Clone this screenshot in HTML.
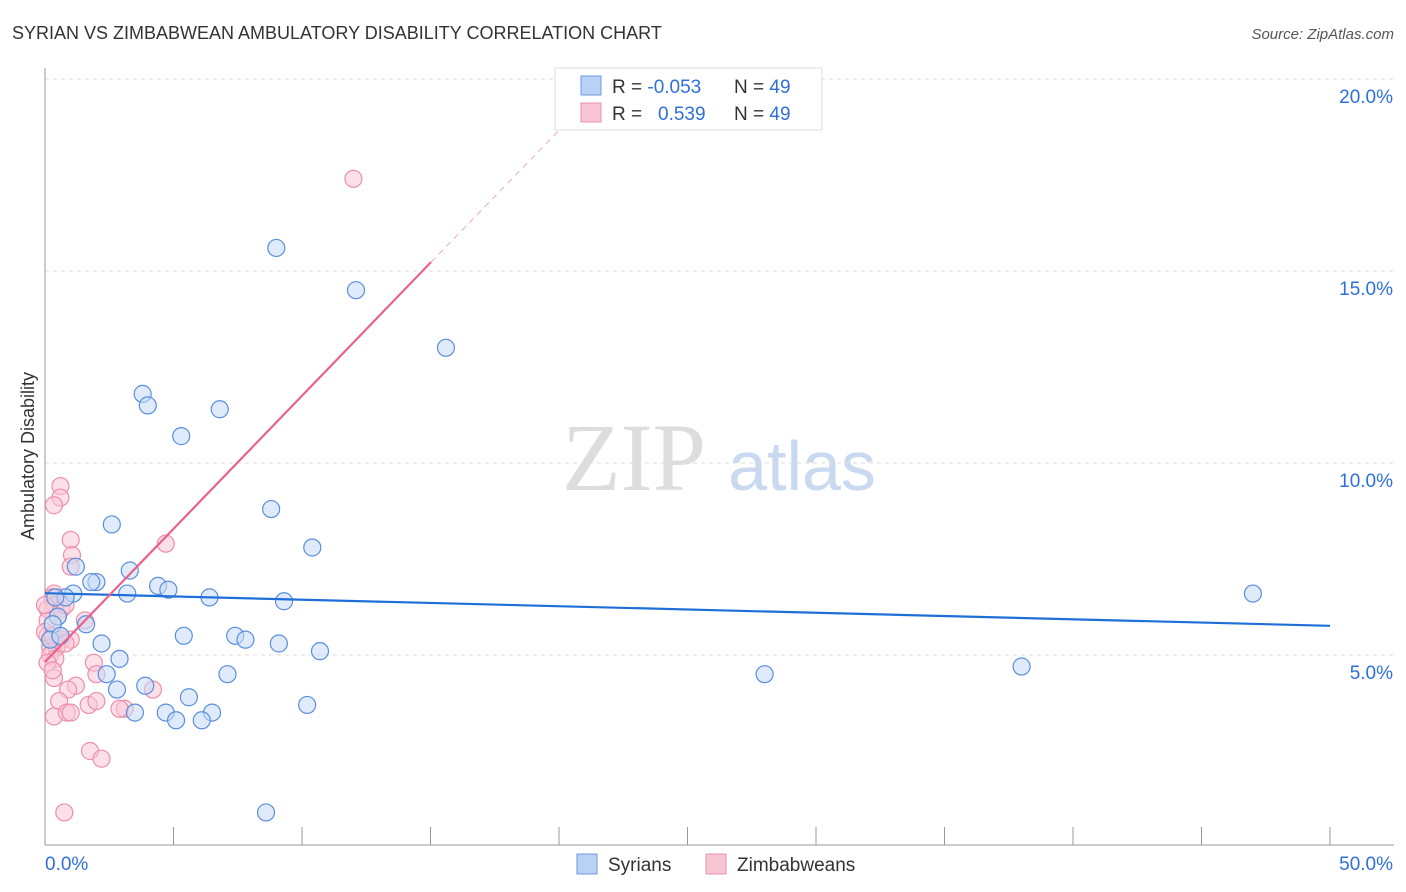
<!DOCTYPE html>
<html><head><meta charset="utf-8"><style>
body{margin:0;background:#fff;font-family:"Liberation Sans",sans-serif;}
svg{display:block}
</style></head><body>
<svg id="chart" width="1406" height="892" xmlns="http://www.w3.org/2000/svg">
<text x="12" y="39" font-size="18" fill="#333">SYRIAN VS ZIMBABWEAN AMBULATORY DISABILITY CORRELATION CHART</text>
<text x="1394" y="39" font-size="15" fill="#555" text-anchor="end" font-style="italic">Source: ZipAtlas.com</text>
<g><text x="634" y="490" font-size="96" fill="#ddd" font-family="Liberation Serif,serif" text-anchor="middle">ZIP</text><text x="802" y="490" font-size="70" fill="#c9d9f0" text-anchor="middle">atlas</text></g>
<g id="grid"></g><g id="axes"></g><g id="pts"></g><g id="lines"></g>
<text transform="translate(34,456) rotate(-90)" font-size="18" fill="#333" text-anchor="middle">Ambulatory Disability</text>
<g>
<rect x="555" y="68" width="267" height="62" fill="#fff" stroke="#ddd"/>
<rect x="581" y="76" width="20" height="19" fill="#b8d2f5" stroke="#6a9be0"/>
<rect x="581" y="103" width="20" height="19" fill="#f9c6d5" stroke="#ec8fab"/>
<text x="612" y="93" font-size="19" fill="#333">R = <tspan fill="#2f6fd8">-0.053</tspan><tspan x="734">N = </tspan><tspan fill="#2f6fd8">49</tspan></text>
<text x="612" y="120" font-size="19" fill="#333">R = <tspan x="658" fill="#2f6fd8">0.539</tspan><tspan x="734">N = </tspan><tspan fill="#2f6fd8">49</tspan></text>
</g>
<g>
<rect x="577" y="854" width="20" height="20" fill="#b8d2f5" stroke="#6a9be0"/>
<text x="608" y="871" font-size="19" fill="#333">Syrians</text>
<rect x="706" y="854" width="20" height="20" fill="#f9c6d5" stroke="#ec8fab"/>
<text x="737" y="871" font-size="19" fill="#333">Zimbabweans</text>
</g>
</svg>
<script>
const yTicks=[5,10,15,20];
const yTickLabels=["5.0%","10.0%","15.0%","20.0%"];
const syrX=[9.0,12.1,15.6,3.8,4.0,6.8,5.3,8.8,2.6,10.4,3.3,1.2,2.0,1.8,4.4,4.8,3.2,6.4,9.3,1.1,0.8,0.4,0.5,1.6,0.3,5.4,7.4,7.8,9.1,2.2,10.7,2.9,2.4,7.1,2.8,3.9,5.6,10.2,3.5,4.7,6.5,5.1,6.1,8.6,28.0,38.0,47.0,0.2,0.6];
const syrY=[15.6,14.5,13.0,11.8,11.5,11.4,10.7,8.8,8.4,7.8,7.2,7.3,6.9,6.9,6.8,6.7,6.6,6.5,6.4,6.6,6.5,6.5,6.0,5.8,5.8,5.5,5.5,5.4,5.3,5.3,5.1,4.9,4.5,4.5,4.1,4.2,3.9,3.7,3.5,3.5,3.5,3.3,3.3,0.9,4.5,4.7,6.6,5.4,5.5];
const zimX=[12.0,0.6,0.6,0.35,1.0,1.05,1.0,4.7,0.35,0.3,0.4,0.1,0.65,1.55,0.1,0.4,0.65,1.0,0.2,0.45,0.2,0.4,0.1,1.9,2.0,0.35,1.2,0.9,0.55,1.7,2.0,3.1,4.2,0.35,0.85,1.0,1.75,2.2,0.75,0.1,0.0,0.3,0.5,0.8,0.6,0.3,0.0,2.9,0.8];
const zimY=[17.4,9.4,9.1,8.9,8.0,7.6,7.3,7.9,6.6,6.5,6.3,6.2,6.2,5.9,5.5,5.4,5.4,5.4,5.2,5.2,5.0,4.9,4.8,4.8,4.5,4.4,4.2,4.1,3.8,3.7,3.8,3.6,4.1,3.4,3.5,3.5,2.5,2.3,0.9,5.9,5.6,5.5,6.0,6.3,5.5,4.6,6.3,3.6,5.3];
const blueLine=[[0,6.61],[50,5.76]];
const pinkLine=[[0,4.82],[15.02,15.23]];
const pinkDash=[[15.02,15.23],[20.2,18.8]];
const X0=45,X1=1330,YB=847,PY=38.4;
const sx=v=>X0+(X1-X0)*v/50, sy=v=>YB-v*PY;
const NS="http://www.w3.org/2000/svg";
function mk(p,t,a){const e=document.createElementNS(NS,t);for(const k in a)e.setAttribute(k,a[k]);p.appendChild(e);return e;}
const grid=document.getElementById('grid'),axes=document.getElementById('axes'),pts=document.getElementById('pts'),lines=document.getElementById('lines');
yTicks.forEach((t,i)=>{
 const g=mk(grid,'line',{x1:X0,x2:1394,y1:sy(t),y2:sy(t),stroke:'#ddd','stroke-dasharray':'4,4'});
 
 
 const l=mk(axes,'text',{x:1393,y:sy(t)+24,'font-size':19,fill:'#2f6fd8','text-anchor':'end'});
 l.textContent=yTickLabels[i];
 
 
});
const al=mk(axes,'line',{x1:X0,x2:X0,y1:68,y2:845,stroke:'#999'});


const bl=mk(axes,'line',{x1:X0,x2:1394,y1:845,y2:845,stroke:'#999'});


for(let i=0;i<=10;i++){const t=mk(axes,'line',{x1:sx(i*5),x2:sx(i*5),y1:827,y2:845,stroke:'#999'});
 
 }
[["0.0%",45,"start"],["50.0%",1393,"end"]].forEach(a=>{const t=mk(axes,'text',{x:a[1],y:870,'font-size':19,fill:'#2f6fd8','text-anchor':a[2]});t.textContent=a[0];
 
 });
function dots(xs,ys,f,s,n){xs.forEach((x,i)=>{const c=mk(pts,'circle',{cx:sx(x),cy:sy(ys[i]),r:8.5,fill:f,'fill-opacity':0.55,stroke:s,'stroke-width':1.2});
 
 });}
dots(zimX,zimY,'#f9c6d5','#ec8fab','zimbabwean-point');
dots(syrX,syrY,'#c4daf6','#5b8fdc','syrian-point');
const b=mk(lines,'line',{x1:sx(blueLine[0][0]),y1:sy(blueLine[0][1]),x2:sx(blueLine[1][0]),y2:sy(blueLine[1][1]),stroke:'#1f6fd9','stroke-width':2.2});


const p=mk(lines,'line',{x1:sx(pinkLine[0][0]),y1:sy(pinkLine[0][1]),x2:sx(pinkLine[1][0]),y2:sy(pinkLine[1][1]),stroke:'#e8628c','stroke-width':2.2});


const d=mk(lines,'line',{x1:sx(pinkDash[0][0]),y1:sy(pinkDash[0][1]),x2:sx(pinkDash[1][0]),y2:sy(pinkDash[1][1]),stroke:'#f0a8c0','stroke-width':1,'stroke-dasharray':'6,5'});


</script>
</body></html>
